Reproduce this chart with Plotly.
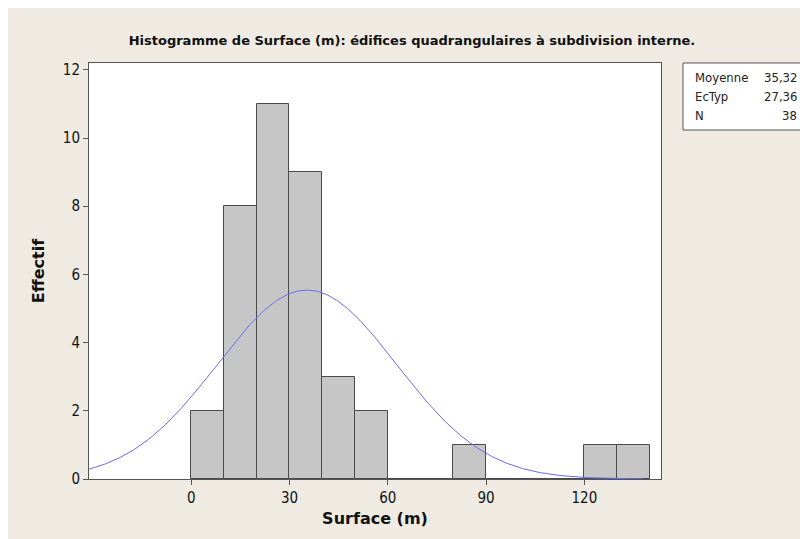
import numpy as np
import plotly.graph_objects as go

# Data
bin_starts = [0, 10, 20, 30, 40, 50, 60, 70, 80, 90, 100, 110, 120, 130]
counts = [2, 8, 11, 9, 3, 2, 0, 0, 1, 0, 0, 0, 1, 1]
bin_width = 10
mean_val = 35.32
std_val = 27.36
n_val = 38
stat_labels = ["Moyenne", "EcTyp", "N"]
stat_values = ["35,32", "27,36", "38"]

x_range = [-31.2, 143.4]
y_range = [0, 12.2]

centers = [b + bin_width / 2 for b in bin_starts]

xs = np.linspace(x_range[0], 138, 400)
ys = n_val * bin_width / (std_val * np.sqrt(2 * np.pi)) * np.exp(-0.5 * ((xs - mean_val) / std_val) ** 2)

font_c = "DejaVu Sans Condensed, DejaVu Sans, sans-serif"
font_n = "DejaVu Sans, sans-serif"

fig = go.Figure()
fig.add_trace(go.Bar(
    x=centers, y=counts, width=[bin_width] * len(centers),
    marker=dict(color="#c6c6c6", line=dict(color="#4a4a4a", width=1)),
    showlegend=False, hoverinfo="skip"))
fig.add_trace(go.Scatter(
    x=xs, y=ys, mode="lines", line=dict(color="#6b6bf0", width=1),
    showlegend=False, hoverinfo="skip"))

# figure coordinates (page has an 8px body margin)
W, H = 808, 539
L, T = 81, 55
R = W - 653
B = H - 471
pw, ph = W - L - R, H - T - B

def px(x):
    return (x - L) / pw

def py(y):
    return (H - B - y) / ph

annotations = []
row_y = [69, 88, 107]
for lab, val, yy in zip(stat_labels, stat_values, row_y):
    annotations.append(dict(x=px(685), y=py(yy), xref="paper", yref="paper",
                            text=lab, showarrow=False, xanchor="left", yanchor="middle",
                            font=dict(family=font_c, size=13, color="#222")))
    annotations.append(dict(x=px(791), y=py(yy), xref="paper", yref="paper",
                            text=val, showarrow=False, xanchor="right", yanchor="middle",
                            font=dict(family=font_c, size=13, color="#222")))

shapes = [dict(type="rect", xref="paper", yref="paper",
               x0=px(675), x1=px(795), y0=py(55), y1=py(122),
               line=dict(color="#555", width=1), fillcolor="white", layer="below")]

fig.update_layout(
    width=W, height=H,
    margin=dict(l=L, r=R, t=T, b=B),
    paper_bgcolor="#efebe2",
    plot_bgcolor="white",
    bargap=0,
    title=dict(text="<b>Histogramme de Surface (m): édifices quadrangulaires à subdivision interne.</b>",
               xref="container", x=404 / W, xanchor="center", y=1 - 32 / H, yanchor="middle",
               font=dict(family=font_n, size=13, color="#111")),
    xaxis=dict(range=x_range, tickvals=[0, 30, 60, 90, 120], ticks="outside", ticklen=5,
               tickcolor="#555", showline=True, linecolor="#555", mirror=True,
               showgrid=False, zeroline=False,
               tickfont=dict(family=font_c, size=15, color="#111"),
               title=dict(text="<b>Surface (m)</b>", standoff=6,
                          font=dict(family=font_n, size=16, color="#111"))),
    yaxis=dict(range=y_range, tickvals=[0, 2, 4, 6, 8, 10, 12], ticks="outside", ticklen=5,
               tickcolor="#555", showline=True, linecolor="#555", mirror=True,
               showgrid=False, zeroline=False,
               tickfont=dict(family=font_c, size=15, color="#111"),
               title=dict(text="<b>Effectif</b>", standoff=14,
                          font=dict(family=font_n, size=16, color="#111"))),
    annotations=annotations,
    shapes=shapes,
)

fig.write_html("out.html")
